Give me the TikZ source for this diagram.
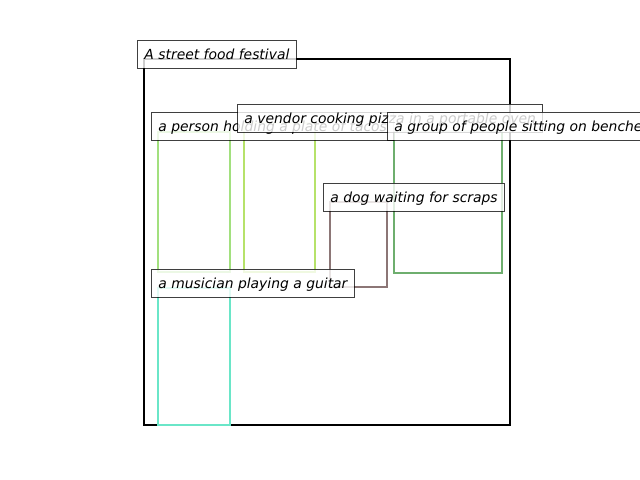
\documentclass[tikz,border=0pt]{standalone}
\usepackage{fontspec}
\setmainfont{DejaVu Sans}
\definecolor{cperson}{HTML}{A2E07E}
\definecolor{cvendor}{HTML}{B6E26A}
\definecolor{cgroup}{HTML}{6EAE6E}
\definecolor{cdog}{HTML}{8C7676}
\definecolor{cmusic}{HTML}{6AE6C8}
\begin{document}
\begin{tikzpicture}[x=0.72pt,y=-0.72pt,
  obj/.style={line width=1.5pt},
  lbl/.style={draw=black, draw opacity=0.75, fill=white, fill opacity=0.8, text opacity=1,
    line width=0.75pt, anchor=base west, inner xsep=5pt, inner ysep=4.25pt,
    text height=9.3pt, text depth=2.4pt, font=\itshape\fontsize{10pt}{12pt}\selectfont}]
\useasboundingbox (0,0) rectangle (640,480);
\clip (0,0) rectangle (640,480);
% boxes
\draw[line width=1.5pt, black] (144,59) rectangle (510,425);
\draw[obj, cperson] (158,132) rectangle (230,272);
\draw[obj, cvendor] (244,123) rectangle (315,272);
\draw[obj, cgroup] (394,131) rectangle (502,273);
\draw[obj, cdog] (330,202) rectangle (387,287);
\draw[obj, cmusic] (158,288) rectangle (230,425);
% labels
\node[lbl] (t) at (137,59) {A street food festival};
\node[lbl] (p) at (151,131) {a person holding a plate of tacos};
\node[lbl] (v) at (237,123) {a vendor cooking pizza in a portable oven};
\node[lbl] (g) at (387,131) {a group of people sitting on benches};
\node[lbl] (d) at (323,202) {a dog waiting for scraps};
\node[lbl] (m) at (151,288) {a musician playing a guitar};
\end{tikzpicture}
\end{document}
